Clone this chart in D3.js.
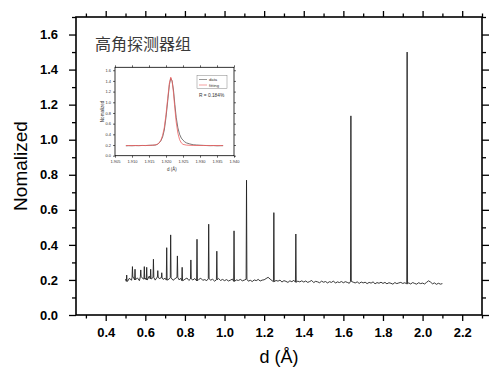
<!DOCTYPE html>
<html>
<head>
<meta charset="utf-8">
<script src="https://cdn.jsdelivr.net/npm/d3@7"></script>
<style>
  body { margin: 0; background: #fff; }
  svg { display: block; }
  .tick text { font-family: "Liberation Sans", Arial, sans-serif; }
</style>
</head>
<body>
<div id="viz"></div>
<script>
// main pattern: baseline read every 0.01 A from 0.50 to 2.10
var baseStart = 0.50
var baseStep = 0.01
var baseline = [
  0.205,0.192,0.210,0.198,0.215,0.200,0.212,0.196,0.218,0.205,
  0.210,0.200,0.222,0.206,0.214,0.199,0.216,0.208,0.212,0.203,
  0.210,0.199,0.205,0.212,0.198,0.207,0.215,0.201,0.209,0.196,
  0.204,0.211,0.197,0.206,0.200,0.208,0.195,0.203,0.210,0.198,
  0.202,0.196,0.207,0.199,0.204,0.193,0.201,0.208,0.197,0.203,
  0.196,0.202,0.194,0.199,0.205,0.192,0.200,0.197,0.203,0.195,
  0.199,0.204,0.193,0.198,0.191,0.200,0.196,0.203,0.194,0.199,
  0.201,0.208,0.215,0.205,0.196,0.190,0.197,0.193,0.199,0.188,
  0.196,0.192,0.186,0.195,0.190,0.198,0.187,0.193,0.189,0.195,
  0.188,0.194,0.186,0.191,0.197,0.185,0.192,0.189,0.184,0.193,
  0.187,0.191,0.183,0.190,0.186,0.194,0.182,0.189,0.185,0.191,
  0.184,0.190,0.186,0.181,0.192,0.187,0.183,0.189,0.180,0.188,
  0.183,0.187,0.179,0.186,0.182,0.189,0.178,0.185,0.181,0.187,
  0.180,0.186,0.178,0.184,0.181,0.176,0.185,0.179,0.183,0.186,
  0.180,0.184,0.178,0.183,0.177,0.185,0.180,0.176,0.184,0.179,
  0.182,0.177,0.186,0.195,0.188,0.178,0.183,0.175,0.181,0.176,
  0.179
]

// peak positions (d) and peak heights
var peakD = [0.506,0.535,0.548,0.577,0.595,0.607,0.627,0.641,0.663,0.683,0.708,0.728,
  0.762,0.786,0.830,0.861,0.920,0.961,1.048,1.111,1.249,1.360,1.638,1.922]
var peakH = [0.228,0.276,0.261,0.257,0.276,0.272,0.261,0.318,0.253,0.241,0.384,0.457,
  0.337,0.272,0.314,0.432,0.518,0.364,0.480,0.769,0.584,0.462,1.136,1.500]

// inset: measured peak and fit near 1.92 A
var insetD = [1.9082,1.9090,1.9100,1.9110,1.9120,1.9130,1.9140,1.9150,1.9160,1.9165,
  1.9170,1.9175,1.9180,1.9185,1.9190,1.9195,1.9200,1.9205,1.9210,1.9214,1.9218,1.9222,
  1.9226,1.9230,1.9235,1.9240,1.9245,1.9250,1.9255,1.9260,1.9270,1.9280,1.9290,1.9300,
  1.9310,1.9320,1.9330,1.9340,1.9350,1.9360,1.9368]
var insetData = [0.185,0.188,0.186,0.190,0.188,0.192,0.190,0.195,0.196,0.198,
  0.200,0.215,0.240,0.280,0.350,0.480,0.720,1.020,1.330,1.450,1.400,1.230,
  0.960,0.720,0.520,0.400,0.330,0.290,0.260,0.240,0.220,0.205,0.200,0.196,
  0.193,0.190,0.187,0.189,0.185,0.187,0.188]
var fitD = [1.9082,1.9120,1.9150,1.9165,1.9175,1.9180,1.9185,1.9190,1.9195,1.9200,1.9205,
  1.9210,1.9214,1.9218,1.9222,1.9226,1.9230,1.9235,1.9240,1.9245,1.9250,1.9260,1.9280,1.9368]
var fitVal = [0.190,0.190,0.192,0.198,0.215,0.240,0.290,0.380,0.530,0.770,1.070,
  1.360,1.470,1.390,1.180,0.890,0.630,0.420,0.300,0.240,0.212,0.198,0.192,0.190]

// axis ticks
var xTicks = [0.4,0.6,0.8,1.0,1.2,1.4,1.6,1.8,2.0,2.2]
var xMinor = [0.3,0.5,0.7,0.9,1.1,1.3,1.5,1.7,1.9,2.1,2.3]
var yTicks = [0,0.2,0.4,0.6,0.8,1.0,1.2,1.4,1.6]
var yMinor = [0.1,0.3,0.5,0.7,0.9,1.1,1.3,1.5,1.7]
var inXTicks = [1.905,1.910,1.915,1.920,1.925,1.930,1.935,1.940]
var inYTicks = [0,0.2,0.4,0.6,0.8,1.0,1.2,1.4,1.6]

var w = 500
var h = 374

var svg = d3.select("#viz").append("svg")
  .attr("width", w)
  .attr("height", h)

var x = d3.scaleLinear().domain([0.25, 2.3]).range([76, 482])
var y = d3.scaleLinear().domain([0, 1.7]).range([315, 17])

// build the pattern: baseline points plus a narrow spike for each peak
var pts = []
baseline.forEach((v, i) => {
  var d = baseStart + i * baseStep
  var near = peakD.some(p => Math.abs(p - d) < 0.003)
  if (!near) pts.push([d, v])
})
peakD.forEach((p, i) => {
  var b = baseline[Math.round((p - baseStart) / baseStep)]
  pts.push([p - 0.002, b])
  pts.push([p, peakH[i]])
  pts.push([p + 0.002, b])
})
pts.sort((a, b) => a[0] - b[0])

var line = d3.line().x(d => x(d[0])).y(d => y(d[1]))

svg.append("path")
  .datum(pts)
  .attr("fill", "none")
  .attr("stroke", "#222")
  .attr("stroke-width", 0.9)
  .attr("d", line)

// axes
function styleAxis(g) {
  g.select(".domain").remove()
  g.selectAll(".tick line").attr("stroke", "#000").attr("stroke-width", 1.3)
}

var fmt = d3.format(".1f")

svg.append("g")
  .attr("transform", "translate(0,315)")
  .call(d3.axisBottom(x).tickValues(xTicks).tickFormat(fmt).tickSize(6).tickPadding(7))
  .call(styleAxis)
  .call(g => g.selectAll("text").attr("font-size", 13).attr("font-weight", "bold").attr("fill", "#000"))
svg.append("g")
  .attr("transform", "translate(0,315)")
  .call(d3.axisBottom(x).tickValues(xMinor).tickFormat("").tickSize(3.5))
  .call(styleAxis)
svg.append("g")
  .attr("transform", "translate(0,17)")
  .call(d3.axisTop(x).tickValues(xTicks).tickFormat("").tickSize(6))
  .call(styleAxis)
svg.append("g")
  .attr("transform", "translate(0,17)")
  .call(d3.axisTop(x).tickValues(xMinor).tickFormat("").tickSize(3.5))
  .call(styleAxis)

svg.append("g")
  .attr("transform", "translate(76,0)")
  .call(d3.axisLeft(y).tickValues(yTicks).tickFormat(fmt).tickSize(7).tickPadding(11))
  .call(styleAxis)
  .call(g => g.selectAll("text").attr("font-size", 13).attr("font-weight", "bold").attr("fill", "#000"))
svg.append("g")
  .attr("transform", "translate(76,0)")
  .call(d3.axisLeft(y).tickValues(yMinor).tickFormat("").tickSize(4))
  .call(styleAxis)
svg.append("g")
  .attr("transform", "translate(482,0)")
  .call(d3.axisRight(y).tickValues(yTicks).tickFormat("").tickSize(7))
  .call(styleAxis)
svg.append("g")
  .attr("transform", "translate(482,0)")
  .call(d3.axisRight(y).tickValues(yMinor).tickFormat("").tickSize(4))
  .call(styleAxis)

// frame
svg.append("rect")
  .attr("x", 76).attr("y", 17)
  .attr("width", 406).attr("height", 298)
  .attr("fill", "none")
  .attr("stroke", "#000")
  .attr("stroke-width", 1.6)

// labels
svg.append("text")
  .attr("x", 279).attr("y", 363)
  .attr("text-anchor", "middle")
  .attr("font-family", "Liberation Sans, Arial, sans-serif")
  .attr("font-size", 18)
  .text("d (Å)")

svg.append("text")
  .attr("transform", "translate(27,166) rotate(-90)")
  .attr("text-anchor", "middle")
  .attr("font-family", "Liberation Sans, Arial, sans-serif")
  .attr("font-size", 19)
  .text("Nomalized")

svg.append("text")
  .attr("x", 95).attr("y", 50)
  .attr("font-family", "Noto Sans CJK SC, sans-serif")
  .attr("font-size", 16)
  .attr("fill", "#3a3a3a")
  .text("高角探测器组")

// inset
var ix = d3.scaleLinear().domain([1.905, 1.940]).range([115, 234])
var iy = d3.scaleLinear().domain([0, 1.655]).range([155.7, 67.3])

var inset = svg.append("g")

inset.append("rect")
  .attr("x", 115).attr("y", 67.3)
  .attr("width", 119).attr("height", 88.4)
  .attr("fill", "#fff")

function styleInset(g) {
  g.select(".domain").remove()
  g.selectAll(".tick line").attr("stroke", "#000").attr("stroke-width", 0.6)
  g.selectAll("text").attr("font-size", 4).attr("fill", "#333")
}

inset.append("g")
  .attr("transform", "translate(0,155.7)")
  .call(d3.axisBottom(ix).tickValues(inXTicks).tickFormat(d3.format(".3f")).tickSize(2).tickPadding(2))
  .call(styleInset)
inset.append("g")
  .attr("transform", "translate(0,67.3)")
  .call(d3.axisTop(ix).tickValues(inXTicks).tickFormat("").tickSize(2))
  .call(styleInset)
inset.append("g")
  .attr("transform", "translate(115,0)")
  .call(d3.axisLeft(iy).tickValues(inYTicks).tickFormat(fmt).tickSize(2).tickPadding(2))
  .call(styleInset)
inset.append("g")
  .attr("transform", "translate(234,0)")
  .call(d3.axisRight(iy).tickValues(inYTicks).tickFormat("").tickSize(2))
  .call(styleInset)

var iline = d3.line().x(d => ix(d[0])).y(d => iy(d[1]))

inset.append("path")
  .datum(insetD.map((d, i) => [d, insetData[i]]))
  .attr("fill", "none")
  .attr("stroke", "#555")
  .attr("stroke-width", 0.8)
  .attr("d", iline)

inset.append("path")
  .datum(fitD.map((d, i) => [d, fitVal[i]]))
  .attr("fill", "none")
  .attr("stroke", "#f06060")
  .attr("stroke-width", 0.8)
  .attr("d", iline)

inset.append("rect")
  .attr("x", 115).attr("y", 67.3)
  .attr("width", 119).attr("height", 88.4)
  .attr("fill", "none")
  .attr("stroke", "#000")
  .attr("stroke-width", 0.8)

// inset legend
inset.append("rect")
  .attr("x", 197).attr("y", 75.5)
  .attr("width", 30).attr("height", 13)
  .attr("fill", "#fff")
  .attr("stroke", "#666")
  .attr("stroke-width", 0.4)
var legItems = [["data", "#555"], ["fitting", "#f06060"]]
legItems.forEach((it, i) => {
  var ly = 79.5 + i * 5.5
  inset.append("line")
    .attr("x1", 199).attr("x2", 207)
    .attr("y1", ly).attr("y2", ly)
    .attr("stroke", it[1]).attr("stroke-width", 0.6)
  inset.append("text")
    .attr("x", 209).attr("y", ly + 1.5)
    .attr("font-family", "Liberation Sans, Arial, sans-serif")
    .attr("font-size", 4.2)
    .attr("fill", "#333")
    .text(it[0])
})
inset.append("text")
  .attr("x", 199).attr("y", 97)
  .attr("font-family", "Liberation Sans, Arial, sans-serif")
  .attr("font-size", 4.8)
  .attr("fill", "#333")
  .text("R = 0.184%")

inset.append("text")
  .attr("x", 172).attr("y", 170.5)
  .attr("text-anchor", "middle")
  .attr("font-family", "Liberation Sans, Arial, sans-serif")
  .attr("font-size", 4.5)
  .attr("fill", "#333")
  .text("d (Å)")
inset.append("text")
  .attr("transform", "translate(104,111.5) rotate(-90)")
  .attr("text-anchor", "middle")
  .attr("font-family", "Liberation Sans, Arial, sans-serif")
  .attr("font-size", 4.5)
  .attr("fill", "#333")
  .text("Nomalized")
</script>
</body>
</html>
